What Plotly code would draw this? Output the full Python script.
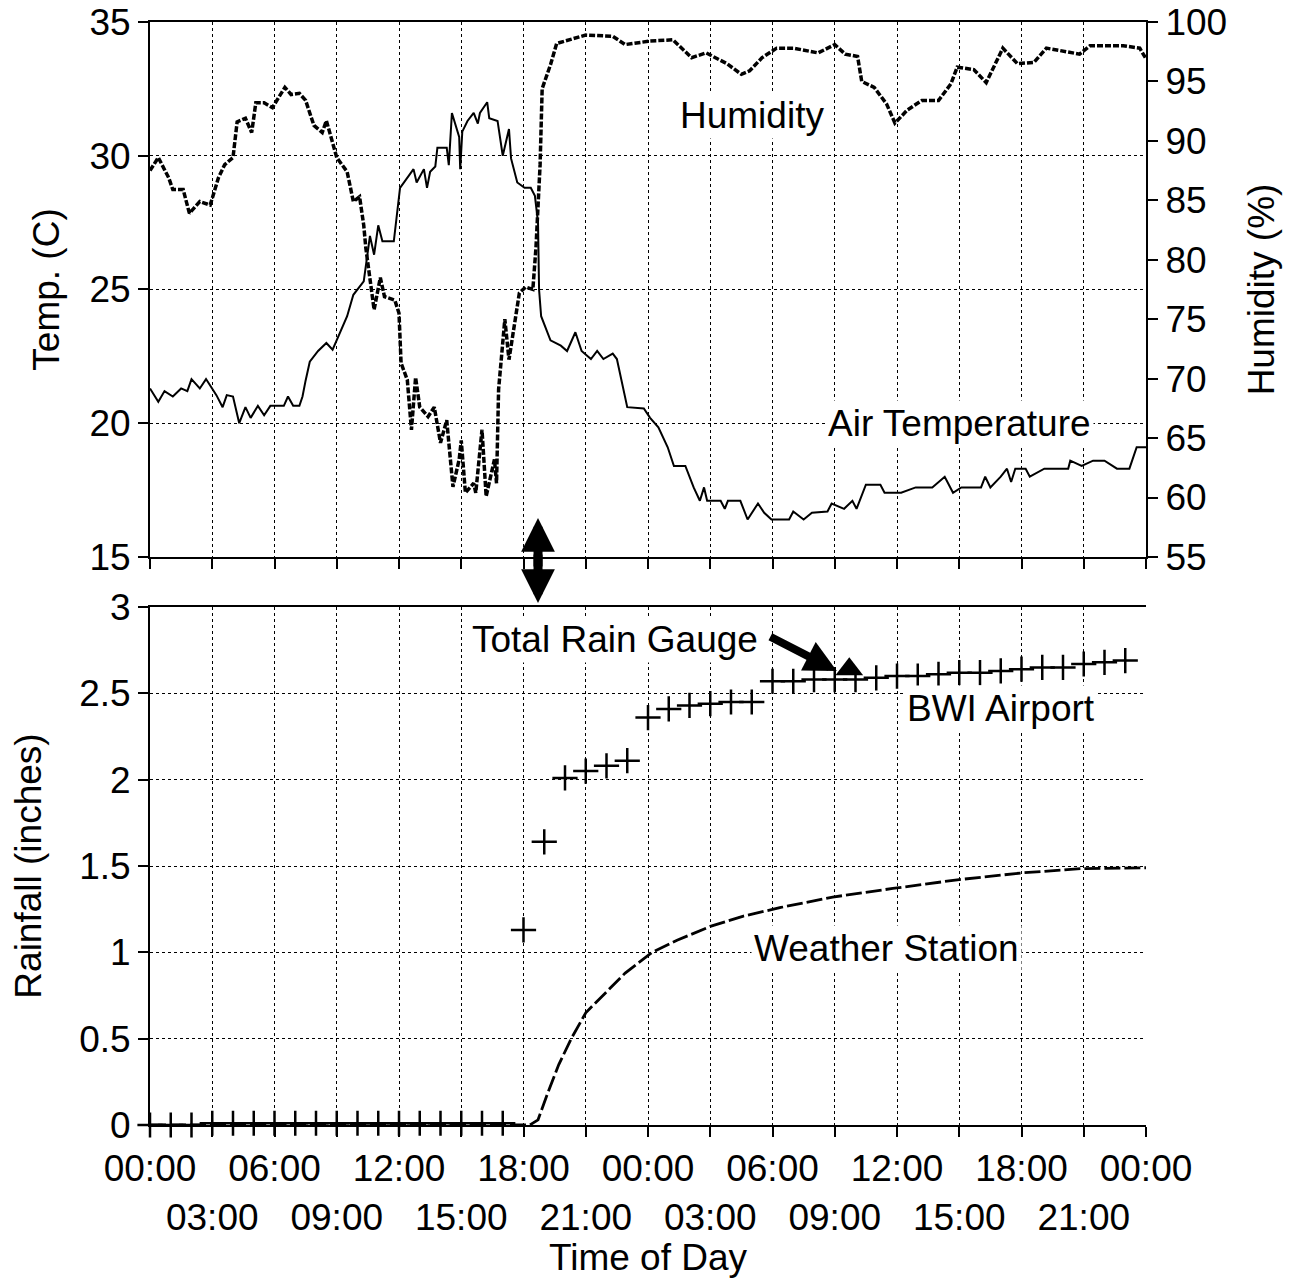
import plotly.graph_objects as go

# ---- Top panel: air temperature (deg C) and relative humidity (%) vs elapsed hours ----
temp_obs = [
    (0.0, 21.3), (0.4, 20.8), (0.7, 21.2), (1.1, 21.0), (1.5, 21.3), (1.8, 21.2), (2.0, 21.65),
    (2.4, 21.3), (2.7, 21.65), (3.2, 21.05), (3.5, 20.6), (3.7, 21.05), (4.0, 21.0), (4.3, 20.0),
    (4.6, 20.6), (4.85, 20.2), (5.2, 20.65), (5.5, 20.3), (5.8, 20.65), (6.45, 20.65), (6.65, 21.0),
    (6.9, 20.65), (7.2, 20.65), (7.35, 21.0), (7.5, 21.6), (7.7, 22.3), (8.1, 22.7), (8.5, 23.0),
    (8.8, 22.75), (9.5, 24.0), (9.8, 24.8), (10.3, 25.3), (10.6, 27.0), (10.8, 26.3), (11.0, 27.4),
    (11.2, 26.8), (11.75, 26.8), (12.05, 28.8), (12.7, 29.5), (12.85, 29.0), (13.2, 29.5),
    (13.35, 28.8), (13.5, 29.4), (13.75, 29.6), (13.85, 30.3), (14.3, 30.3), (14.4, 29.65),
    (14.55, 31.6), (14.9, 30.7), (14.95, 29.5), (15.05, 30.9), (15.3, 31.3), (15.6, 31.6),
    (15.8, 31.2), (15.9, 31.6), (16.25, 32.0), (16.35, 31.4), (16.75, 31.3), (17.0, 30.0),
    (17.3, 31.0), (17.4, 29.9), (17.7, 29.0), (18.05, 28.8), (18.35, 28.8), (18.55, 28.5),
    (18.7, 27.5), (18.75, 25.0), (18.85, 24.0), (19.3, 23.1), (19.8, 22.9), (20.1, 22.7),
    (20.5, 23.4), (20.8, 22.7), (21.25, 22.4), (21.55, 22.7), (21.85, 22.4), (22.3, 22.6),
    (22.5, 22.4), (23.0, 20.6), (23.8, 20.55), (24.1, 20.2), (24.5, 19.85), (24.95, 19.1),
    (25.25, 18.4), (25.8, 18.4), (26.2, 17.6), (26.5, 17.1), (26.7, 17.6), (26.85, 17.1),
    (27.5, 17.1), (27.7, 16.8), (27.85, 17.1), (28.45, 17.1), (28.8, 16.4), (29.3, 17.0),
    (29.6, 16.65), (29.95, 16.4), (30.8, 16.4), (31.0, 16.7), (31.5, 16.4), (31.9, 16.65),
    (32.65, 16.7), (32.85, 17.0), (33.45, 16.8), (33.85, 17.1), (34.05, 16.8), (34.5, 17.7),
    (35.2, 17.7), (35.4, 17.4), (36.2, 17.4), (36.9, 17.6), (37.7, 17.6), (38.3, 18.0),
    (38.7, 17.4), (39.1, 17.6), (40.05, 17.6), (40.25, 18.0), (40.5, 17.6), (41.0, 18.0),
    (41.3, 18.3), (41.5, 17.8), (41.7, 18.3), (42.2, 18.3), (42.4, 18.0), (43.1, 18.3),
    (44.25, 18.3), (44.35, 18.6), (44.9, 18.4), (45.45, 18.6), (46.0, 18.6), (46.6, 18.3),
    (47.2, 18.3), (47.55, 19.1), (48.0, 19.1),
]
temp_hours = [h for h, _ in temp_obs]
temp_c = [v for _, v in temp_obs]

humidity_obs = [
    (0.0, 87.5), (0.4, 88.6), (0.9, 86.9), (1.1, 85.9), (1.6, 85.9), (1.9, 83.9), (2.4, 84.9),
    (2.9, 84.6), (3.3, 86.9), (3.6, 88.0), (4.0, 88.6), (4.2, 91.6), (4.6, 91.9), (4.9, 90.7),
    (5.1, 93.2), (5.5, 93.2), (5.9, 92.8), (6.5, 94.5), (6.8, 93.9), (7.2, 94.0), (7.5, 93.4),
    (7.9, 91.3), (8.3, 90.7), (8.5, 91.7), (9.0, 88.6), (9.5, 87.4), (9.8, 84.9), (10.1, 85.3),
    (10.3, 82.9), (10.4, 81.0), (10.8, 75.8), (11.1, 78.5), (11.3, 76.9), (11.8, 76.6),
    (12.0, 75.5), (12.1, 71.3), (12.4, 69.9), (12.6, 65.7), (12.8, 70.1), (13.0, 67.6),
    (13.4, 66.8), (13.7, 67.6), (14.0, 64.6), (14.3, 66.5), (14.6, 60.9), (14.9, 63.2),
    (15.0, 64.8), (15.2, 60.4), (15.6, 61.2), (15.7, 60.4), (16.0, 65.7), (16.2, 60.1),
    (16.6, 63.2), (16.7, 61.2), (16.8, 69.1), (17.1, 75.0), (17.3, 71.6), (17.6, 75.0),
    (17.8, 77.2), (18.1, 77.7), (18.45, 77.5), (18.6, 81.0), (18.8, 88.0), (18.9, 94.4),
    (19.3, 96.4), (19.6, 98.2), (21.0, 98.9), (22.3, 98.8), (22.9, 98.1), (24.1, 98.4),
    (25.2, 98.5), (26.1, 97.0), (26.8, 97.4), (27.8, 96.5), (28.5, 95.6), (28.9, 95.9),
    (29.5, 97.0), (30.2, 97.8), (31.0, 97.8), (32.2, 97.4), (33.0, 98.1), (33.5, 97.3),
    (34.1, 97.1), (34.3, 95.0), (34.9, 94.5), (35.5, 93.1), (35.9, 91.5), (36.5, 92.6),
    (37.2, 93.4), (38.0, 93.4), (38.6, 94.8), (38.9, 96.2), (39.7, 96.0), (40.3, 94.9),
    (41.1, 97.8), (41.8, 96.5), (42.6, 96.6), (43.2, 97.8), (44.8, 97.3), (45.3, 98.0),
    (46.1, 98.0), (46.9, 98.0), (47.7, 97.8), (48.0, 96.9),
]
hum_hours = [h for h, _ in humidity_obs]
hum_pct = [v for _, v in humidity_obs]

# ---- Bottom panel: cumulative rainfall (inches) ----
bwi_hours = list(range(0, 48))
bwi_inches = [0.0, 0.0, 0.0] + [0.01] * 15 + [
    1.13, 1.64, 2.01, 2.05, 2.08, 2.11, 2.36, 2.41, 2.43, 2.44, 2.45, 2.45,
    2.57, 2.57, 2.58, 2.58, 2.58, 2.59, 2.60, 2.60, 2.61, 2.62, 2.62, 2.63,
    2.64, 2.65, 2.65, 2.67, 2.68, 2.69,
]

station_hours = [0.0, 18.3, 18.7, 19.15, 19.7, 20.3, 21.0, 22.0, 22.9, 24.2, 25.4, 27.0,
                 28.6, 30.4, 32.9, 35.8, 38.9, 42.0, 44.9, 48.0]
station_inches = [0.0, 0.0, 0.03, 0.18, 0.35, 0.5, 0.65, 0.77, 0.88, 1.0, 1.07, 1.15,
                  1.21, 1.26, 1.32, 1.37, 1.42, 1.46, 1.485, 1.49]

gauge_hours = [33.7]
gauge_inches = [2.64]

# tick labels: even 6-h marks on the first row, odd 3-h marks on the second row
tick_hours = list(range(0, 49, 3))
tick_text = [("%02d:00" % (h % 24)) if h % 6 == 0 else ("<br>%02d:00" % (h % 24)) for h in tick_hours]

FONT = "Liberation Sans, Arial, sans-serif"
FS = 37
BLACK = "black"

fig = go.Figure()

fig.add_trace(go.Scatter(x=temp_hours, y=temp_c, xaxis="x", yaxis="y", mode="lines",
                         line=dict(color=BLACK, width=2), name="Air Temperature"))
fig.add_trace(go.Scatter(x=hum_hours, y=hum_pct, xaxis="x", yaxis="y2", mode="lines",
                         line=dict(color=BLACK, width=3.5, dash="6px,2px"), name="Humidity"))
fig.add_trace(go.Scatter(x=station_hours, y=station_inches, xaxis="x2", yaxis="y3", mode="lines",
                         line=dict(color=BLACK, width=2.8, dash="16px,4px"), name="Weather Station"))
fig.add_trace(go.Scatter(x=bwi_hours, y=bwi_inches, xaxis="x2", yaxis="y3", mode="markers",
                         cliponaxis=False,
                         marker=dict(symbol="cross-thin", size=18, color=BLACK,
                                     line=dict(color=BLACK, width=2.5)), name="BWI Airport"))
fig.add_trace(go.Scatter(x=gauge_hours, y=gauge_inches, xaxis="x2", yaxis="y3", mode="markers",
                         marker=dict(symbol="triangle-up", size=24, color=BLACK), name="Total Rain Gauge"))

axis_common = dict(color=BLACK, linecolor=BLACK, linewidth=2, ticks="outside", ticklen=10,
                   tickwidth=1.5, tickcolor=BLACK, zeroline=False, automargin=False,
                   tickfont=dict(family=FONT, size=FS, color=BLACK))
grid = dict(showgrid=True, gridcolor=BLACK, gridwidth=1.2, griddash="dot")

fig.update_layout(
    width=1297, height=1278,
    margin=dict(l=150, r=151, t=22, b=153),
    paper_bgcolor="white", plot_bgcolor="white",
    showlegend=False,
    font=dict(family=FONT, size=FS, color=BLACK),
    xaxis=dict(domain=[0, 1], anchor="y", range=[0, 48], tickvals=tick_hours,
               showticklabels=False, showline=True, mirror=True, **grid, **axis_common),
    yaxis=dict(domain=[0.515, 1], anchor="x", range=[15, 35], tickvals=[15, 20, 25, 30, 35],
               showline=True, title=dict(text="Temp. (C)", font=dict(size=FS), standoff=18),
               **grid, **axis_common),
    yaxis2=dict(overlaying="y", side="right", anchor="x", range=[55, 100],
                tickvals=list(range(55, 101, 5)), showline=True, showgrid=False,
                title=dict(text="Humidity (%)", font=dict(size=FS), standoff=22), **axis_common),
    xaxis2=dict(domain=[0, 1], anchor="y3", range=[0, 48], tickvals=tick_hours, ticktext=tick_text,
                tickangle=0, showline=True, mirror=True,
                title=dict(text="Time of Day", font=dict(size=FS), standoff=18),
                **grid, **axis_common),
    yaxis3=dict(domain=[0, 0.4696], anchor="x2", range=[0, 3], tickvals=[0, 0.5, 1, 1.5, 2, 2.5, 3],
                showline=True, title=dict(text="Rainfall (inches)", font=dict(size=FS), standoff=26),
                **grid, **axis_common),
    yaxis4=dict(overlaying="y3", side="right", anchor="x2", range=[0, 9], tickvals=list(range(0, 10)),
                showticklabels=False, showline=True, showgrid=False, **axis_common),
)

label_font = dict(family=FONT, size=FS, color=BLACK)
labels = [
    ("Humidity", "x", "y", 29.0, 31.5),
    ("Air Temperature", "x", "y", 39.0, 20.0),
    ("Total Rain Gauge", "x2", "y3", 22.4, 2.81),
    ("BWI Airport", "x2", "y3", 41.0, 2.41),
    ("Weather Station", "x2", "y3", 35.5, 1.02),
]
for text, xr, yr, xv, yv in labels:
    fig.add_annotation(text=text, xref=xr, yref=yr, x=xv, y=yv, showarrow=False,
                       font=label_font, bgcolor="white", borderpad=2)

# double-headed arrow marking the onset of rain, spanning the gap between panels
fig.add_annotation(text="", xref="x2", yref="paper", x=18.7, y=0.5503, ax=0, ay=50,
                   showarrow=True, arrowhead=2, arrowwidth=9, arrowsize=0.75, arrowcolor=BLACK)
fig.add_annotation(text="", xref="x2", yref="paper", x=18.7, y=0.4733, ax=0, ay=-50,
                   showarrow=True, arrowhead=2, arrowwidth=9, arrowsize=0.75, arrowcolor=BLACK)
# pointer from the rain-gauge label to its reading
fig.add_annotation(text="", xref="x2", yref="y3", x=33.1, y=2.63, ax=-68, ay=-35,
                   showarrow=True, arrowhead=2, arrowwidth=8, arrowsize=0.8, arrowcolor=BLACK)

fig.write_html("out.html")
